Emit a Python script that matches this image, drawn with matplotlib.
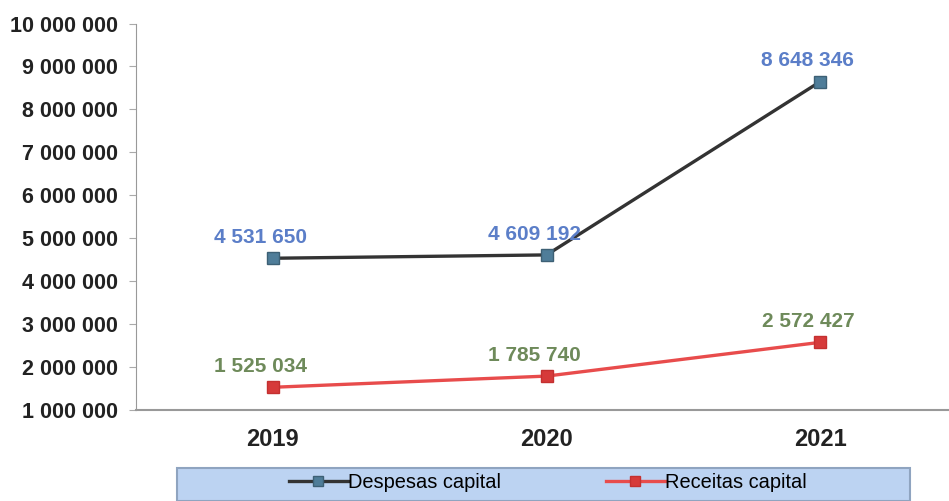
"""
Capital expenditure vs capital revenue, 2019-2021.
"""
import matplotlib.pyplot as plt
from matplotlib.patches import Rectangle

plt.rcParams['font.family'] = ['Liberation Sans', 'DejaVu Sans']

years = ['2019', '2020', '2021']
despesas = [4531650, 4609192, 8648346]
receitas = [1525034, 1785740, 2572427]


def fmt(v):
    return '{:,}'.format(v).replace(',', ' ')


fig = plt.figure(figsize=(9.49, 5.01), dpi=100)
ax = fig.add_axes([0.1433, 0.182, 0.8567, 0.771])

x = range(len(years))
ax.plot(x, despesas, '-', color='#333333', lw=2.4, marker='s', ms=9,
        mfc='#4f7d99', mec='#3d6075', label='Despesas capital')
ax.plot(x, receitas, '-', color='#e84c4c', lw=2.4, marker='s', ms=9,
        mfc='#d63a3a', mec='#c43030', label='Receitas capital')

for i, v in enumerate(despesas):
    ax.annotate(fmt(v), (i, v), xytext=(-9, 8), textcoords='offset points',
                ha='center', va='bottom', color='#5b7ec8', fontsize=15,
                fontweight='bold')
for i, v in enumerate(receitas):
    ax.annotate(fmt(v), (i, v), xytext=(-9, 8), textcoords='offset points',
                ha='center', va='bottom', color='#6e8a5a', fontsize=15,
                fontweight='bold')

ax.set_xlim(-0.5, 2.47)
ax.set_ylim(1000000, 10000000)
ax.set_yticks(range(1000000, 10000001, 1000000))
ax.set_yticklabels([fmt(v) for v in range(1000000, 10000001, 1000000)])
ax.set_xticks(list(x))
ax.set_xticklabels(years)

for s in ['top', 'right']:
    ax.spines[s].set_visible(False)
ax.spines['left'].set_color('#999999')
ax.spines['bottom'].set_color('#999999')
ax.spines['bottom'].set_linewidth(1.5)
ax.tick_params(axis='y', direction='out', length=5, color='#aaaaaa',
               labelsize=15.5, pad=8)
ax.tick_params(axis='x', length=0, labelsize=17, pad=13)
for t in ax.get_yticklabels():
    t.set_fontweight('bold')
    t.set_color('#222222')
for t in ax.get_xticklabels():
    t.set_fontweight('bold')
    t.set_color('#222222')

# legend band at the bottom
fig.patches.append(Rectangle((177 / 949, 0), 733 / 949, 33 / 501,
                             transform=fig.transFigure, facecolor='#bcd3f2',
                             edgecolor='#8fa4c0', lw=1.5, zorder=0))
leg = fig.legend(loc='center', bbox_to_anchor=(0.577, 0.036), ncol=2,
                 frameon=False, fontsize=14.4, handlelength=2.95,
                 columnspacing=5.25, handletextpad=0.0, borderpad=0)
for h in leg.legend_handles:
    h.set_markersize(7)

fig.savefig('out.png', dpi=100)
